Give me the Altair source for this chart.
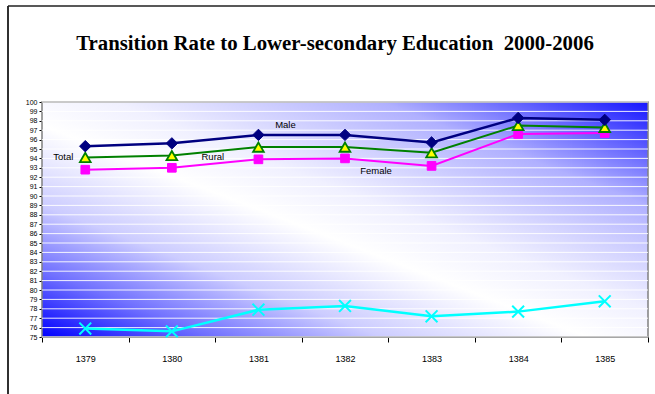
import altair as alt
import pandas as pd

# Transition rate (%) by school year (Solar Hijri calendar)
years = ["1379", "1380", "1381", "1382", "1383", "1384", "1385"]
male = [95.3, 95.6, 96.5, 96.5, 95.7, 98.3, 98.1]
total = [94.1, 94.3, 95.2, 95.2, 94.6, 97.5, 97.3]
female = [92.8, 93.0, 93.9, 94.0, 93.2, 96.6, 96.7]
rural = [75.9, 75.6, 77.9, 78.3, 77.2, 77.7, 78.8]
y_ticks = list(range(75, 101))
# non-breaking space keeps the double gap before the year range in SVG
title_text = "Transition Rate to Lower-secondary Education\u00a0 2000-2006"

W, H = 606, 235

x_enc = alt.X(
    "year:N",
    bandPosition=0.5,
    scale=alt.Scale(type="band", domain=years, paddingInner=0, paddingOuter=0),
    axis=alt.Axis(
        title=None, labelAngle=0, tickBand="extent", tickSize=5,
        labelPadding=12, labelFontSize=9, labelFont="Liberation Sans",
        labelColor="black", domainColor="black", tickColor="black",
    ),
)
y_enc = alt.Y(
    "value:Q",
    scale=alt.Scale(domain=[75, 100], nice=False, zero=False),
    axis=alt.Axis(
        values=y_ticks, title=None, grid=False, tickSize=3, labelPadding=2,
        labelFontSize=7, labelFont="Liberation Sans", labelColor="black",
        domainColor="black", tickColor="black", labelOverlap=False,
    ),
)


def frame(vals):
    return pd.DataFrame({"year": years, "value": vals})


one = alt.Data(values=[{}])

bg = alt.LinearGradient(
    gradient="linear", x1=0, y1=1, x2=1, y2=0,
    stops=[
        alt.GradientStop(offset=0.0, color="#0000FF"),
        alt.GradientStop(offset=0.14, color="#7070FF"),
        alt.GradientStop(offset=0.28, color="#CCCCFF"),
        alt.GradientStop(offset=0.45, color="#FFFFFF"),
        alt.GradientStop(offset=0.56, color="#F0F0FF"),
        alt.GradientStop(offset=0.78, color="#B0B0FF"),
        alt.GradientStop(offset=1.0, color="#1515FF"),
    ],
)

# plot-area background with diagonal gradient
backdrop = alt.Chart(one).mark_rect(fill=bg, stroke="#808080", strokeWidth=1.5).encode(
    x=alt.value(0), x2=alt.value(W), y=alt.value(0), y2=alt.value(H)
)

# white horizontal grid over the gradient background
grid = alt.Chart(pd.DataFrame({"value": y_ticks})).mark_rule(
    color="white", strokeWidth=1, opacity=0.9
).encode(y=y_enc)


def series(vals, color, width, shape, size, fill=None, stroke=None, sw=1.0, filled=True):
    df = frame(vals)
    line = alt.Chart(df).mark_line(color=color, strokeWidth=width).encode(x=x_enc, y=y_enc)
    pt_kwargs = dict(shape=shape, size=size, opacity=1, filled=filled, strokeWidth=sw)
    if fill is not None:
        pt_kwargs["fill"] = fill
    if stroke is not None:
        pt_kwargs["stroke"] = stroke
    pts = alt.Chart(df).mark_point(**pt_kwargs).encode(x=x_enc, y=y_enc)
    return [line, pts]


layers = [backdrop, grid]
layers += series(rural, "#00FFFF", 2.5, "M-1,-1L1,1M-1,1L1,-1", 140,
                 stroke="#00FFFF", sw=2, filled=False)
layers += series(female, "#FF00FF", 2, "square", 75, fill="#FF00FF", stroke="#FF00FF")
layers += series(total, "#008000", 2, "triangle-up", 115, fill="#FFFF00", stroke="#008000", sw=1.8)
layers += series(male, "#000080", 2.5, "diamond", 130, fill="#000080", stroke="#000080")


def label(text, year, value, align, dx, dy):
    return alt.Chart(pd.DataFrame({"year": [year], "value": [value], "t": [text]})).mark_text(
        align=align, baseline="middle", dx=dx, dy=dy, fontSize=9.5,
        font="Liberation Sans", color="black",
    ).encode(x=x_enc, y=y_enc, text="t:N")


layers += [
    label("Total", years[0], total[0], "right", -12, 0),
    label("Rural", years[1], total[1], "center", 41, 1),
    label("Male", years[2], male[2], "center", 27, -10),
    label("Female", years[3], female[3], "center", 31, 13),
]

# chart heading
heading = alt.Chart(alt.Data(values=[{"t": title_text}])).mark_text(
    font="Liberation Serif", fontSize=20.8, fontWeight="bold", color="black",
    align="center", baseline="alphabetic",
).encode(x=alt.value(293), y=alt.value(-52), text="t:N")
layers.append(heading)

# outer chart border (left and top edges)
border_left = alt.Chart(one).mark_rule(color="#303030", strokeWidth=2).encode(
    x=alt.value(-34), y=alt.value(-96), y2=alt.value(292)
)
border_top = alt.Chart(one).mark_rule(color="#202020", strokeWidth=1.5).encode(
    x=alt.value(-34), x2=alt.value(613), y=alt.value(-96)
)
layers += [border_left, border_top]

chart = alt.layer(*layers).properties(
    width=W,
    height=H,
    autosize=alt.AutoSizeParams(type="none"),
    padding={"left": 42, "top": 102, "right": 7, "bottom": 57},
    background="white",
).configure_view(stroke=None)

chart.save("out.html", embed_options={"renderer": "svg", "actions": False})
